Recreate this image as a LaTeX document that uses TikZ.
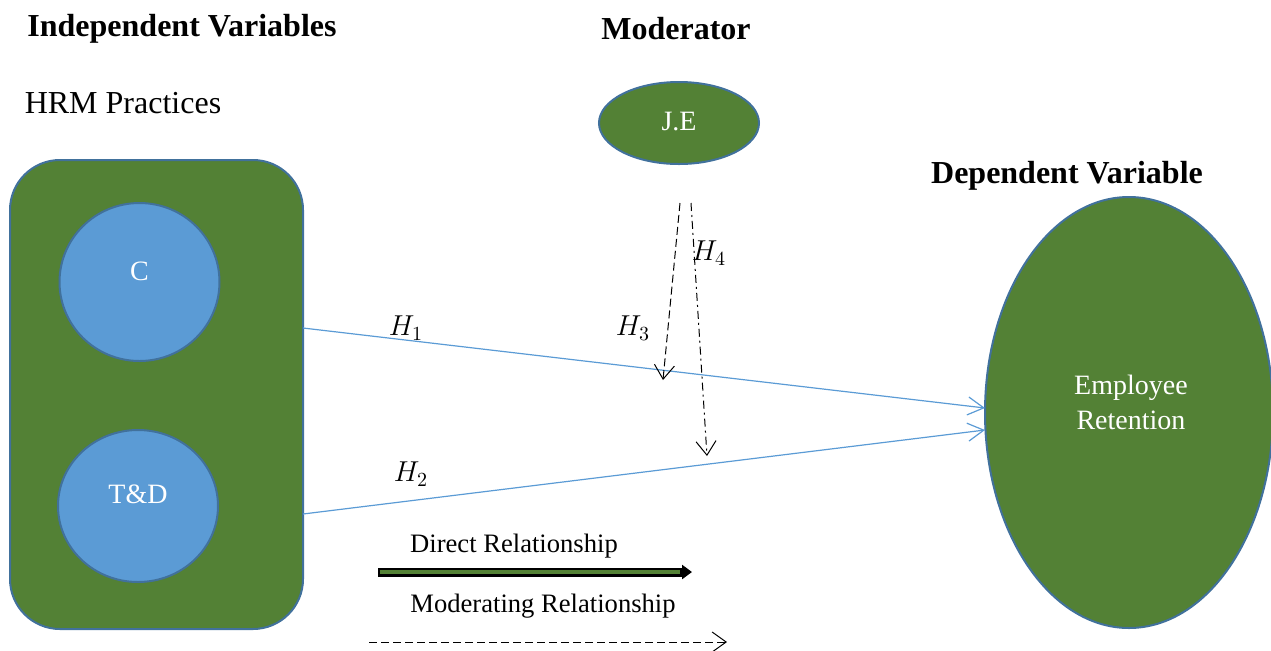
\documentclass[tikz,border=0pt]{standalone}
\usepackage{fontspec}
\setmainfont{Liberation Serif}
\usetikzlibrary{arrows.meta,shapes.geometric,calc}
\definecolor{dgreen}{HTML}{538135}
\definecolor{lblue}{HTML}{5B9BD5}
\definecolor{bord}{HTML}{41719C}
\definecolor{lineblue}{HTML}{5B9BD5}
\tikzset{
  title/.style={font=\fontsize{16}{19}\selectfont\bfseries},
  plain/.style={font=\fontsize{16}{19}\selectfont},
  small/.style={font=\fontsize{13.3}{16}\selectfont},
  hlab/.style={font=\fontsize{14}{16}\selectfont},
  ctext/.style={text=white,font=\fontsize{14}{17.5}\selectfont,align=center},
  bluecirc/.style={ellipse,draw=bord,line width=1pt,fill=lblue,inner sep=0pt},
  greenell/.style={ellipse,draw=bord,line width=1pt,fill=dgreen,inner sep=0pt},
  direct/.style={draw=lineblue,line width=0.6pt,-{Straight Barb[length=8pt,width=9pt]}},
  moder/.style={line width=0.5pt,-{Straight Barb[length=7pt,width=10pt]}},
  mdash/.style={dash pattern=on 4pt off 2pt},
  mdashdot/.style={dash pattern=on 4pt off 2pt on 1pt off 2pt},
}
\begin{document}
\begin{tikzpicture}[x=0.5pt,y=-0.5pt]
\useasboundingbox (0,0) rectangle (1271,650);
% titles
\node[title] (tiv) at (182,29) {Independent Variables};
\node[title] (tmod) at (676,29) {Moderator};
\node[title] (tdv) at (1067,176) {Dependent Variable};
\node[plain] (hrm) at (123,103) {HRM Practices};
% main shapes
\node[draw=bord,line width=1pt,fill=dgreen,rounded corners=25pt,
      minimum width=146.5pt,minimum height=234.5pt,inner sep=0pt] (box) at (156.5,394.5) {};
\node[bluecirc,minimum width=80pt,minimum height=79pt] (c) at (139.5,282) {};
\node[ctext] (ctxt) at (139.5,271) {C};
\node[bluecirc,minimum width=80pt,minimum height=76pt] (td) at (138,506) {};
\node[ctext] (tdtxt) at (138,494) {T\&D};
\node[greenell,minimum width=80pt,minimum height=41pt] (je) at (679,123) {};
\node[ctext] (jetxt) at (679,122) {J.E};
\node[greenell,minimum width=144pt,minimum height=215.5pt] (er) at (1129,412.5) {};
\node[ctext] (ertxt) at (1131,402) {Employee\\Retention};
% direct arrows
\coordinate (h1s) at (303,328);
\coordinate (h1e) at (985,408);
\coordinate (h2s) at (303,514);
\coordinate (h2e) at (985,430);
\draw[direct] (h1s) -- (h1e);
\draw[direct] (h2s) -- (h2e);
% moderating arrows
\coordinate (h3s) at (680,203);
\coordinate (h3e) at (663,380);
\coordinate (h4s) at (691,203);
\coordinate (h4e) at (707,456);
\draw[moder,mdash] (h3s) -- (h3e);
\draw[moder,mdashdot] (h4s) -- (h4e);
% labels
\node[hlab] (l1) at (406,328) {$H_1$};
\node[hlab] (l2) at (411,474) {$H_2$};
\node[hlab] (l3) at (633,328) {$H_3$};
\node[hlab] (l4) at (709,253) {$H_4$};
% legend
\node[small] (ld) at (514,546) {Direct Relationship};
\node[small] (lm) at (543,606) {Moderating Relationship};
\coordinate (ds) at (378,572);
\coordinate (de) at (692,572);
\draw[line width=4.5pt,-{Triangle[length=5pt,width=7pt]}] (ds) -- (de);
\draw[dgreen,line width=2.2pt,shorten <=1.2pt,shorten >=6pt] (ds) -- (de);
\coordinate (ms) at (369,642);
\coordinate (me) at (727,642);
\draw[moder,mdash] (ms) -- (me);
\end{tikzpicture}
\end{document}
